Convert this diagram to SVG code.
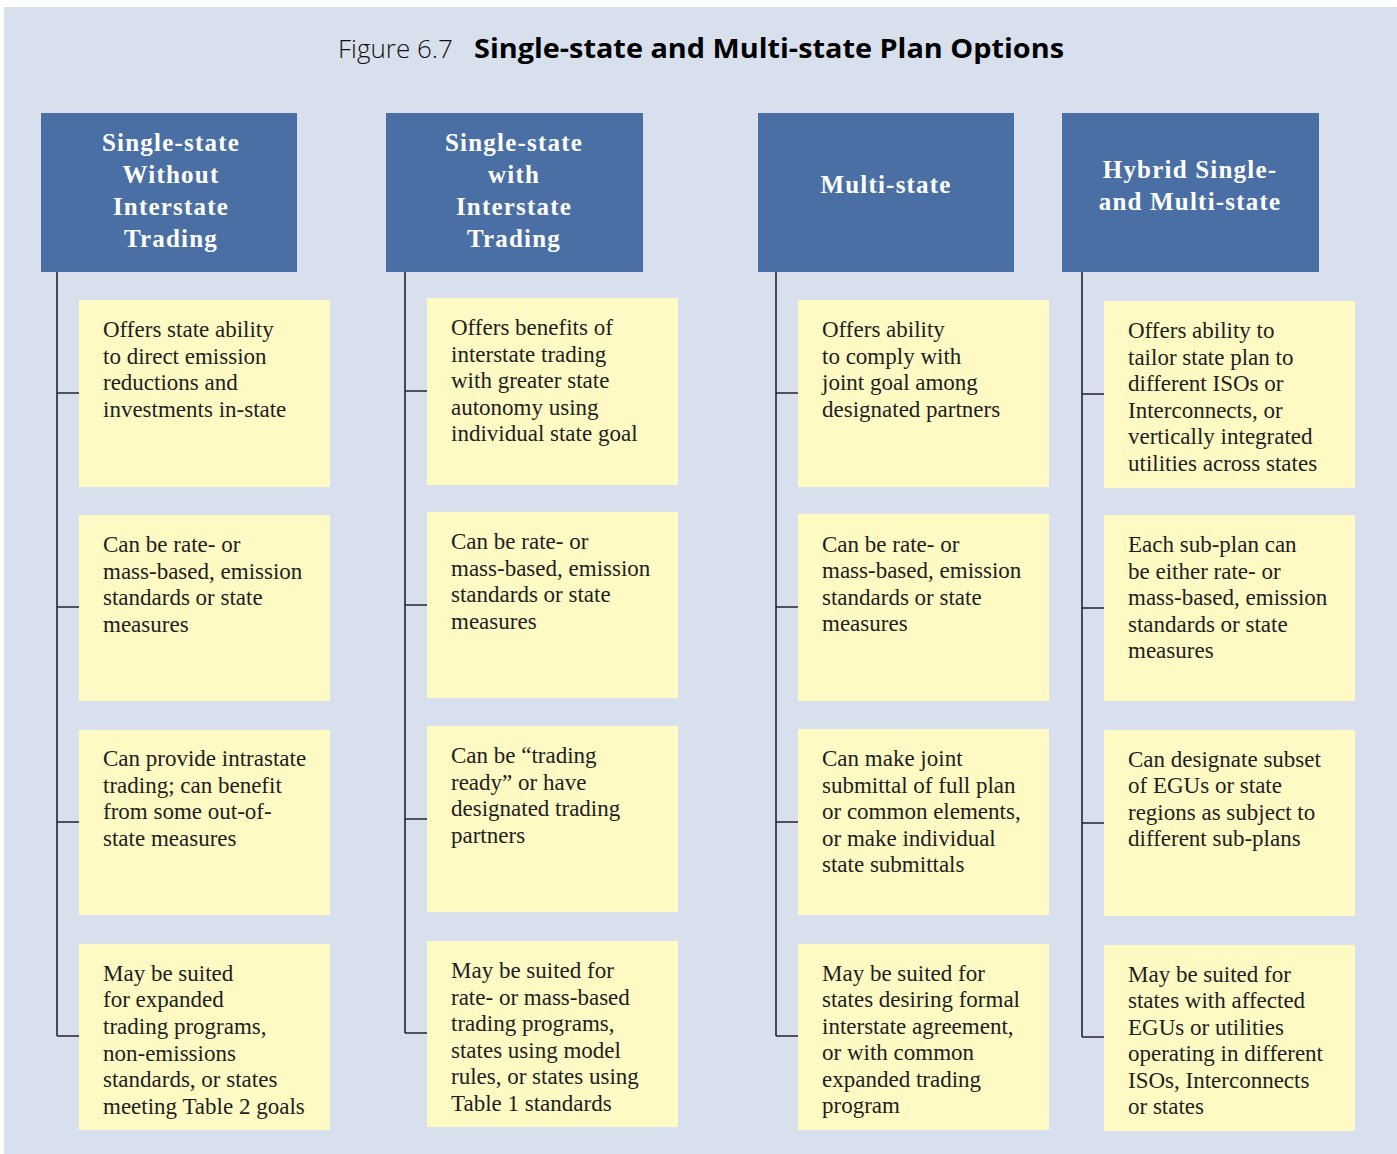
<svg xmlns="http://www.w3.org/2000/svg" width="1397" height="1154" viewBox="0 0 1397 1154">
<style>
.bg{fill:#D9E0ED}
.hd rect{fill:#4A6FA4}
.hd text{fill:#FFFFFF;font-family:"Liberation Serif",serif;font-weight:bold;font-size:25px;letter-spacing:1.2px;text-anchor:middle}
.bx rect{fill:#FFF9C4}
.bx text{fill:#1E1E1E;font-family:"Liberation Serif",serif;font-size:23px}
.conn path{fill:none;stroke:#222233;stroke-width:1.6}
.t1{font-family:"Open Sans","Noto Sans",sans-serif;font-weight:300;font-size:26px;fill:#111}
.t2{font-family:"Open Sans","Noto Sans",sans-serif;font-weight:bold;font-size:26px;fill:#000}
</style>
<rect x="0" y="0" width="1397" height="1154" fill="#FFFFFF"/>
<rect class="bg" x="4" y="7" width="1393" height="1147"/>
<g id="title">
<text class="t1" x="338" y="58">Figure 6.7</text>
<text class="t2" x="474" y="58" textLength="590" lengthAdjust="spacingAndGlyphs">Single-state and Multi-state Plan Options</text>
</g>
<g id="connectors" class="conn">
<path d="M57,272 V1036 M57,393 H79 M57,607 H79 M57,822 H79 M57,1036 H79"/>
<path d="M405,272 V1033 M405,391 H427 M405,605 H427 M405,819 H427 M405,1033 H427"/>
<path d="M776,272 V1036 M776,393 H798 M776,607 H798 M776,822 H798 M776,1036 H798"/>
<path d="M1082,272 V1037 M1082,394 H1104 M1082,608 H1104 M1082,823 H1104 M1082,1037 H1104"/>
</g>
<g id="h1" class="hd"><rect x="41" y="113" width="256" height="159"/>
<text x="171" y="151">Single-state</text><text x="171" y="183">Without</text><text x="171" y="215">Interstate</text><text x="171" y="247">Trading</text></g>
<g id="h2" class="hd"><rect x="386" y="113" width="257" height="159"/>
<text x="514" y="151">Single-state</text><text x="514" y="183">with</text><text x="514" y="215">Interstate</text><text x="514" y="247">Trading</text></g>
<g id="h3" class="hd"><rect x="758" y="113" width="256" height="159"/>
<text x="886" y="193">Multi-state</text></g>
<g id="h4" class="hd"><rect x="1062" y="113" width="257" height="159"/>
<text x="1190" y="178">Hybrid Single-</text><text x="1190" y="210">and Multi-state</text></g>

<g id="c1b1" class="bx"><rect x="79" y="300" width="251" height="187"/>
<text x="103" y="337">Offers state ability</text><text x="103" y="363.5">to direct emission</text><text x="103" y="390">reductions and</text><text x="103" y="416.5">investments in-state</text></g>
<g id="c1b2" class="bx"><rect x="79" y="515" width="251" height="186"/>
<text x="103" y="552">Can be rate- or</text><text x="103" y="578.5">mass-based, emission</text><text x="103" y="605">standards or state</text><text x="103" y="631.5">measures</text></g>
<g id="c1b3" class="bx"><rect x="79" y="730" width="251" height="185"/>
<text x="103" y="766">Can provide intrastate</text><text x="103" y="792.5">trading; can benefit</text><text x="103" y="819">from some out-of-</text><text x="103" y="845.5">state measures</text></g>
<g id="c1b4" class="bx"><rect x="79" y="944" width="251" height="186"/>
<text x="103" y="980.5">May be suited</text><text x="103" y="1007">for expanded</text><text x="103" y="1034">trading programs,</text><text x="103" y="1060.5">non-emissions</text><text x="103" y="1087">standards, or states</text><text x="103" y="1113.5">meeting Table 2 goals</text></g>

<g id="c2b1" class="bx"><rect x="427" y="298" width="251" height="187"/>
<text x="451" y="335">Offers benefits of</text><text x="451" y="361.5">interstate trading</text><text x="451" y="388">with greater state</text><text x="451" y="414.5">autonomy using</text><text x="451" y="441">individual state goal</text></g>
<g id="c2b2" class="bx"><rect x="427" y="512" width="251" height="186"/>
<text x="451" y="549">Can be rate- or</text><text x="451" y="575.5">mass-based, emission</text><text x="451" y="602">standards or state</text><text x="451" y="628.5">measures</text></g>
<g id="c2b3" class="bx"><rect x="427" y="726" width="251" height="186"/>
<text x="451" y="763">Can be “trading</text><text x="451" y="789.5">ready” or have</text><text x="451" y="816">designated trading</text><text x="451" y="842.5">partners</text></g>
<g id="c2b4" class="bx"><rect x="427" y="941" width="251" height="186"/>
<text x="451" y="978">May be suited for</text><text x="451" y="1004.5">rate- or mass-based</text><text x="451" y="1031">trading programs,</text><text x="451" y="1057.5">states using model</text><text x="451" y="1084">rules, or states using</text><text x="451" y="1110.5">Table 1 standards</text></g>

<g id="c3b1" class="bx"><rect x="798" y="300" width="251" height="187"/>
<text x="822" y="337">Offers ability</text><text x="822" y="363.5">to comply with</text><text x="822" y="390">joint goal among</text><text x="822" y="416.5">designated partners</text></g>
<g id="c3b2" class="bx"><rect x="798" y="514" width="251" height="187"/>
<text x="822" y="551.5">Can be rate- or</text><text x="822" y="578">mass-based, emission</text><text x="822" y="604.5">standards or state</text><text x="822" y="631">measures</text></g>
<g id="c3b3" class="bx"><rect x="798" y="729" width="251" height="186"/>
<text x="822" y="766">Can make joint</text><text x="822" y="792.5">submittal of full plan</text><text x="822" y="819">or common elements,</text><text x="822" y="845.5">or make individual</text><text x="822" y="872">state submittals</text></g>
<g id="c3b4" class="bx"><rect x="798" y="944" width="251" height="186"/>
<text x="822" y="980.5">May be suited for</text><text x="822" y="1007">states desiring formal</text><text x="822" y="1033.5">interstate agreement,</text><text x="822" y="1060">or with common</text><text x="822" y="1086.5">expanded trading</text><text x="822" y="1113">program</text></g>

<g id="c4b1" class="bx"><rect x="1104" y="301" width="251" height="187"/>
<text x="1128" y="338">Offers ability to</text><text x="1128" y="364.5">tailor state plan to</text><text x="1128" y="391">different ISOs or</text><text x="1128" y="417.5">Interconnects, or</text><text x="1128" y="444">vertically integrated</text><text x="1128" y="470.5">utilities across states</text></g>
<g id="c4b2" class="bx"><rect x="1104" y="515" width="251" height="186"/>
<text x="1128" y="552">Each sub-plan can</text><text x="1128" y="578.5">be either rate- or</text><text x="1128" y="605">mass-based, emission</text><text x="1128" y="631.5">standards or state</text><text x="1128" y="658">measures</text></g>
<g id="c4b3" class="bx"><rect x="1104" y="730" width="251" height="186"/>
<text x="1128" y="766.5">Can designate subset</text><text x="1128" y="793">of EGUs or state</text><text x="1128" y="819.5">regions as subject to</text><text x="1128" y="846">different sub-plans</text></g>
<g id="c4b4" class="bx"><rect x="1104" y="945" width="251" height="186"/>
<text x="1128" y="981.5">May be suited for</text><text x="1128" y="1008">states with affected</text><text x="1128" y="1034.5">EGUs or utilities</text><text x="1128" y="1061">operating in different</text><text x="1128" y="1087.5">ISOs, Interconnects</text><text x="1128" y="1114">or states</text></g>
</svg>
